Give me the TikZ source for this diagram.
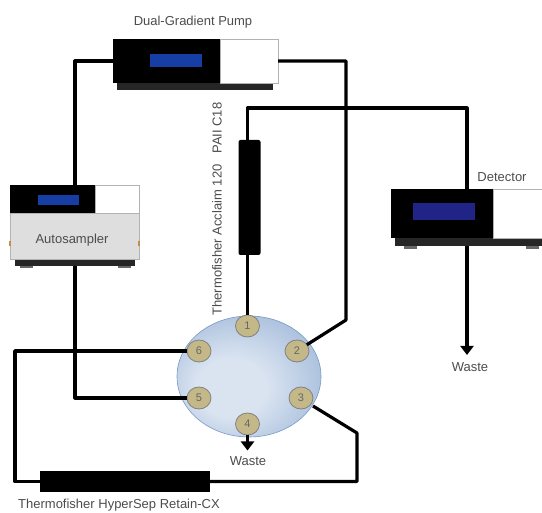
\documentclass[tikz,border=0pt]{standalone}
\usepackage{fontspec}
\setmainfont{Liberation Sans}
\usetikzlibrary{arrows.meta,shapes.geometric}

\definecolor{pumpblue}{RGB}{22,62,165}
\definecolor{detblue}{RGB}{32,36,135}
\definecolor{porttan}{RGB}{196,184,136}
\definecolor{valvehi}{RGB}{218,228,241}
\definecolor{valvemid}{RGB}{166,189,219}
\definecolor{valvelow}{RGB}{118,153,198}
\pgfdeclareradialshading{valveshade}{\pgfpoint{-8bp}{-6bp}}{
  color(0bp)=(valvehi);
  color(12bp)=(valvehi);
  color(32bp)=(valvemid);
  color(54bp)=(valvelow)}

\tikzset{
  box/.style={rectangle, inner sep=0pt, outer sep=0pt},
  blackpart/.style={box, fill=black},
  whitepart/.style={box, fill=white, draw=black!30, line width=0.6pt},
  basepart/.style={box, fill=black!85},
  screen/.style={box, fill=pumpblue},
  foot/.style={box, fill=black!60, minimum width=13pt, minimum height=3pt},
  tick/.style={box, fill=orange!70!black!70, minimum width=2pt, minimum height=5pt},
  port/.style={ellipse, inner sep=0pt, outer sep=0pt, fill=porttan, draw=black!50, line width=0.8pt,
    minimum width=24pt, minimum height=22pt, font=\fontsize{11}{11}\selectfont, text=black!60},
  tube/.style={line width=3.2pt, black, line join=round},
  label/.style={font=\fontsize{13}{15}\selectfont, text=black!70, inner sep=0pt},
  flow/.style={tube, -{Triangle[width=13pt,length=9pt]}}
}

\begin{document}
\begin{tikzpicture}[x=1pt, y=-1pt]
  \useasboundingbox (0,0) rectangle (542,513);
  % pump
  \node[label] (pumplabel) at (193,22) {Dual-Gradient Pump};
  \node[basepart, minimum width=156pt, minimum height=7pt] (pumpbase) at (195,86.5) {};
  \node[blackpart, minimum width=107pt, minimum height=44pt] (pump) at (166.5,61) {};
  \node[whitepart, minimum width=58pt, minimum height=44pt] (pumpside) at (249,61) {};
  \node[screen, minimum width=52pt, minimum height=13pt] (pumpscreen) at (176,60.5) {};
  % autosampler
  \node[foot] (autofootl) at (26,267) {};
  \node[foot] (autofootr) at (124,267) {};
  \node[basepart, minimum width=120pt, minimum height=7pt] (autobase) at (75,262.5) {};
  \node[box, fill=black!13, draw=black!30, line width=0.6pt, minimum width=129pt, minimum height=46pt] (auto) at (74.5,236) {};
  \node[label] (autolabel) at (72,240) {Autosampler};
  \node[blackpart, minimum width=85pt, minimum height=28pt] (autotop) at (52.5,199) {};
  \node[whitepart, minimum width=44pt, minimum height=28pt] (autoside) at (117,199) {};
  \node[screen, minimum width=41pt, minimum height=10pt] (autoscreen) at (58.5,200) {};
  \node[tick] (autotickl) at (10,244) {};
  \node[tick] (autotickr) at (139,244) {};
  % detector
  \node[foot] (detfootl) at (410,247.5) {};
  \node[foot] (detfootr) at (532,247.5) {};
  \node[basepart, minimum width=147pt, minimum height=8pt] (detbase) at (468.5,242) {};
  \node[blackpart, minimum width=102pt, minimum height=49pt] (det) at (442,213.5) {};
  \node[whitepart, minimum width=52pt, minimum height=49pt] (detside) at (519,213.5) {};
  \node[screen, fill=detblue, minimum width=62pt, minimum height=17pt] (detscreen) at (444,211.5) {};
  \node[label] (detlabel) at (502,177) {Detector};
  \node[label] (detwaste) at (470,367) {Waste};
  \coordinate (detend) at (467,355);
  % columns
  \node[blackpart, rounded corners=2pt, minimum width=22pt, minimum height=115pt] (column) at (249.5,197.5) {};
  \node[label, rotate=90] (columnlabel) at (217,209) {Thermofisher Acclaim 120\ \ \ PAII C18};
  \node[blackpart, minimum width=170pt, minimum height=21pt] (trap) at (125,481.5) {};
  \node[label] (traplabel) at (119,505) {Thermofisher HyperSep Retain-CX};
  % valve
  \node[ellipse, inner sep=0pt, minimum width=144pt, minimum height=121pt, draw=valvelow, line width=0.6pt,
    shading=valveshade] (valve) at (249,376.5) {};
  \node[port] (p1) at (247.5,326) {1};
  \node[port] (p2) at (297,351) {2};
  \node[port] (p3) at (301,398) {3};
  \node[port] (p4) at (247.5,424) {4};
  \node[port] (p5) at (199,398) {5};
  \node[port] (p6) at (199,351) {6};
  \node[label] (valvewaste) at (248,461) {Waste};
  \coordinate (valveend) at (247.5,450.5);
  % tubing bends
  \coordinate (pumpbend) at (75,61);
  \coordinate (valvebendtop) at (346,61);
  \coordinate (valvebend) at (346,320);
  \coordinate (columnbend) at (247.5,108);
  \coordinate (detbend) at (467,108);
  \coordinate (trapbend) at (15,351);
  \coordinate (backbendtop) at (357,433);
  \coordinate (p3out) at (313,406);
  % tubing
  \draw[tube] (pump.west) -- (pumpbend) -- (pumpbend |- autotop.north);
  \draw[tube] (pumpbend |- autobase.south) -- (pumpbend |- p5.west) -- (p5.west);
  \draw[tube] (pumpside.east) -- (valvebendtop) -- (valvebend) -- (p2);
  \draw[tube] (columnbend |- column.north) -- (columnbend) -- (detbend) -- (detbend |- det.north);
  \draw[tube] (columnbend |- column.south) -- (p1.north);
  \draw[tube, line width=3.8pt] (p6.west) -- (trapbend |- p6.west) -- (trapbend |- trap.west) -- (trap.west);
  \draw[tube] (trap.east) -- (backbendtop |- trap.east) -- (backbendtop) -- (p3out);
  \draw[flow] (detend |- detbase.south) -- (detend);
  \draw[flow] (p4.south) -- (valveend);
\end{tikzpicture}
\end{document}
